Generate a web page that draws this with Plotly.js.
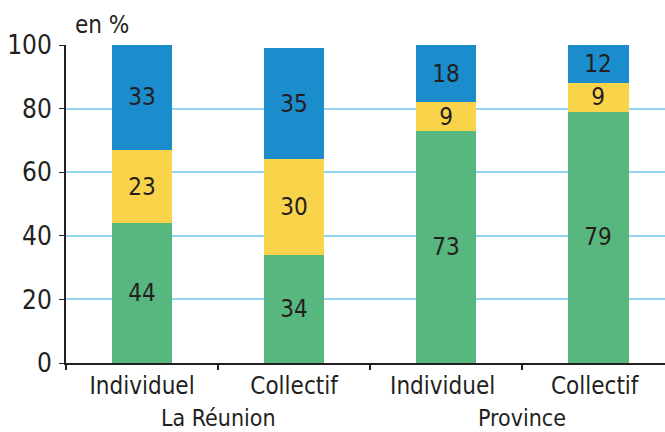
<!DOCTYPE html>
<html><head><meta charset="utf-8">
<script src="https://cdn.plot.ly/plotly-3.0.1.min.js"></script>
<style>body{margin:0;background:#fff}#c{width:665px;height:432px}</style>
</head><body><div id="c"></div>
<script>
const categories = ["Individuel", "Collectif", "Individuel ", "Collectif "];
const groups = ["La Réunion", "Province"];
const groupPos = [0.5, 2.5];
const green = [44, 34, 73, 79];
const yellow = [23, 30, 9, 9];
const blue = [33, 35, 18, 12];
const yTicks = [0, 20, 40, 60, 80, 100];

const FONT = "'Liberation Sans Narrow', 'DejaVu Sans Condensed', 'Roboto', sans-serif";
function tr(vals, color) {
  return {
    type: 'bar', x: categories, y: vals, marker: {color: color, line: {width: 0}},
    text: vals.map(String), textposition: 'inside', insidetextanchor: 'middle',
    constraintext: 'none', textangle: 0,
    textfont: {family: FONT, size: 24, color: '#231f20'},
    hoverinfo: 'skip', width: 0.4
  };
}
const data = [tr(green, '#58b77f'), tr(yellow, '#f9d44a'), tr(blue, '#1b8ccc')];
const layout = {
  width: 665, height: 432, barmode: 'stack', showlegend: false,
  margin: {l: 66, r: 0, t: 45, b: 69},
  paper_bgcolor: '#fff', plot_bgcolor: '#fff',
  font: {family: FONT, size: 24, color: '#231f20'},
  xaxis: {type: 'category', range: [-0.5, 3.44], tickson: 'boundaries',
    ticks: 'outside', ticklen: 5, tickcolor: '#231f20', tickwidth: 1.5,
    showline: true, linecolor: '#231f20', linewidth: 2, showgrid: false,
    tickfont: {size: 24}, fixedrange: true},
  yaxis: {range: [0, 100], tickvals: yTicks, ticks: 'outside', ticklen: 5,
    tickcolor: '#231f20', showline: true, linecolor: '#231f20', linewidth: 2,
    gridcolor: '#92d4f2', gridwidth: 2, zeroline: false,
    tickfont: {size: 26}, ticklabelstandoff: 2},
  annotations: [
    ...groups.map((g, i) => ({x: groupPos[i], xref: 'x', y: 0, yref: 'paper', yshift: -55,
      text: g, showarrow: false, font: {size: 23}, yanchor: 'middle'})),
    {x: 0, xref: 'paper', xshift: 7, y: 1, yref: 'paper', yshift: 20, text: 'en %',
      showarrow: false, xanchor: 'left', yanchor: 'middle', font: {size: 24}}
  ]
};
Plotly.newPlot('c', data, layout, {staticPlot: true});
</script></body></html>
